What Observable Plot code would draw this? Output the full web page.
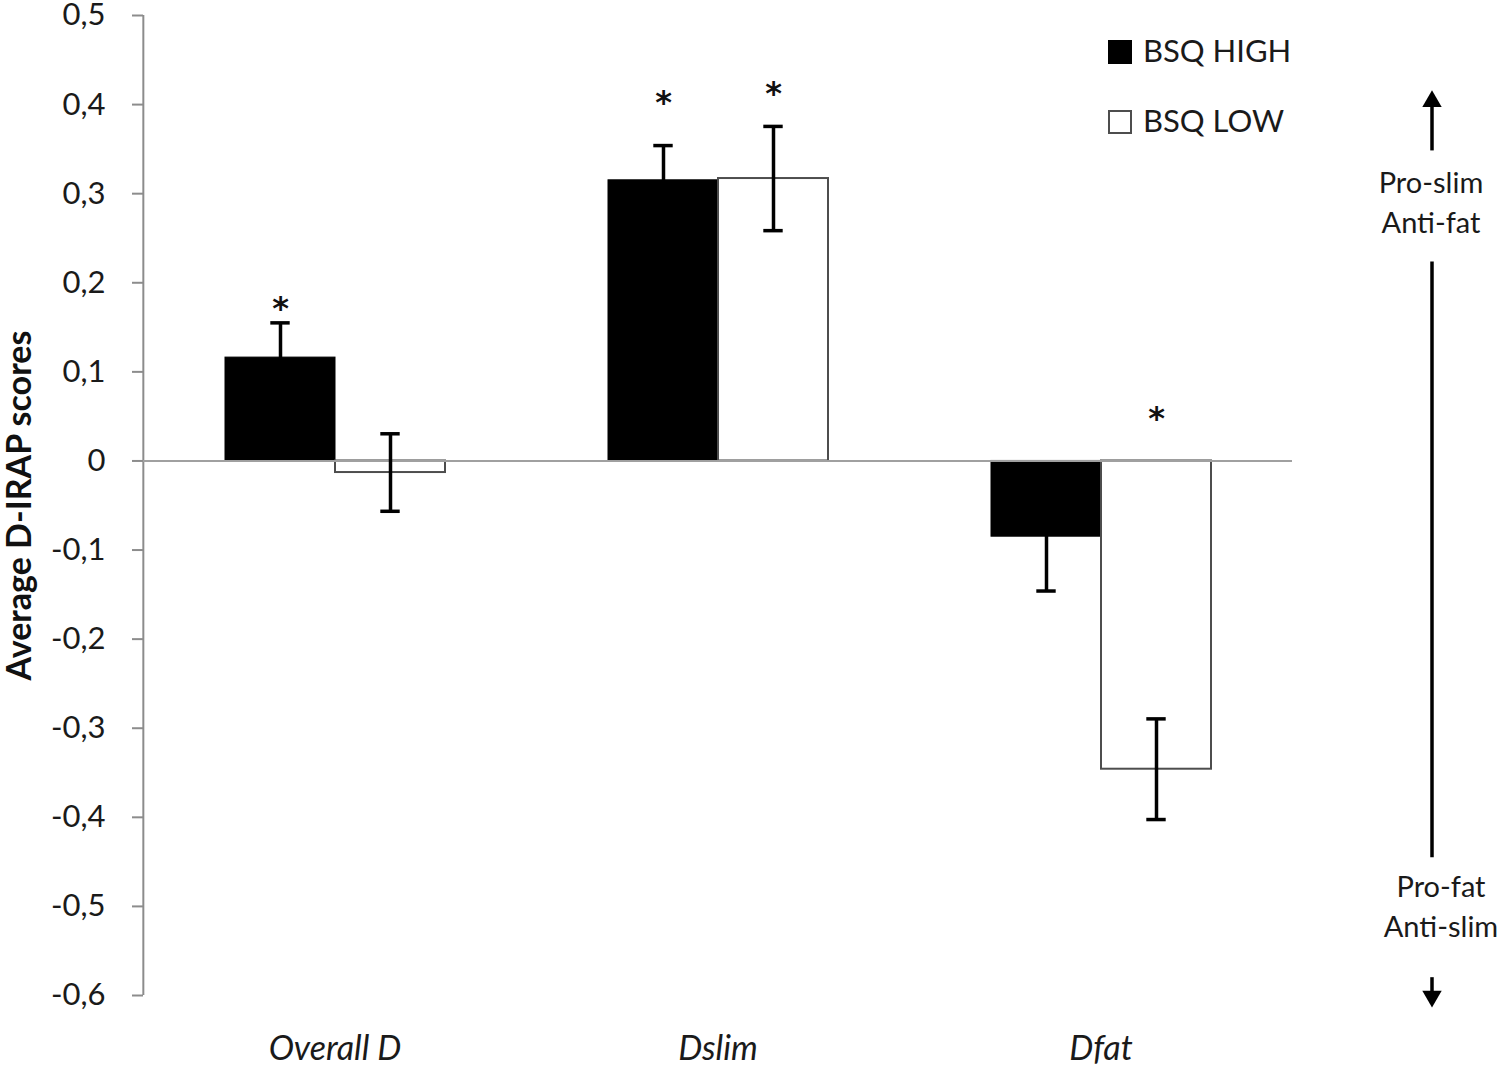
<!DOCTYPE html>
<html><head><meta charset="utf-8">
<script src="https://cdn.jsdelivr.net/npm/d3@7"></script>
<script src="https://cdn.jsdelivr.net/npm/@observablehq/plot@0.6"></script>
<style>
body{margin:0;background:#fff;}
#wrap{position:relative;width:1500px;height:1067px;}
.leg{position:absolute;left:1108px;font-family:Lato,sans-serif;font-size:31px;color:#1a1a1a;height:30px;line-height:30px;white-space:nowrap;}
.sw{display:inline-block;width:24px;height:24px;box-sizing:border-box;vertical-align:middle;margin-right:11px;position:relative;top:-2px;}
g[aria-label="fx-axis tick label"] text{font-style:italic;}
</style></head><body><div id="wrap"></div>
<script>
const categories = ["Overall D", "Dslim", "Dfat"];
const groups = ["BSQ HIGH", "BSQ LOW"];
const highMeans = [0.116, 0.315, -0.085];
const highErrors = [0.039, 0.039, 0.061];
const lowMeans = [-0.013, 0.317, -0.346];
const lowErrors = [0.0435, 0.0585, 0.0565];
const yTicks = [0.5, 0.4, 0.3, 0.2, 0.1, 0, -0.1, -0.2, -0.3, -0.4, -0.5, -0.6];
const starCategories = ["Overall D", "Dslim", "Dslim", "Dfat"];
const starGroups = ["BSQ HIGH", "BSQ HIGH", "BSQ LOW", "BSQ LOW"];
const starY = [0.177, 0.4075, 0.418, 0.053];
const axisTitle = "Average D-IRAP scores";
const upperLabels = ["Pro-slim", "Anti-fat"];
const upperLabelY = [0.311, 0.266];
const lowerLabels = ["Pro-fat", "Anti-slim"];
const lowerLabelY = [-0.479, -0.524];
const arrowShafts = [[0.348, 0.399], [0.2233, -0.4455], [-0.580, -0.597]];
const arrowHeads = [[0.4036, 0], [-0.601, 180]];
const sideCategory = "Dfat";

const fmt = v => v === 0 ? "0" : v.toFixed(1).replace(".", ",");

const high = categories.map((c, i) => ({cat: c, group: groups[0], v: highMeans[i], e: highErrors[i]}));
const low = categories.map((c, i) => ({cat: c, group: groups[1], v: lowMeans[i], e: lowErrors[i]}));
const all = high.concat(low);
const stars = starCategories.map((c, i) => ({cat: c, group: starGroups[i], y: starY[i]}));
const upper = upperLabels.map((t, i) => ({cat: sideCategory, t, y: upperLabelY[i]}));
const lower = lowerLabels.map((t, i) => ({cat: sideCategory, t, y: lowerLabelY[i]}));
const shafts = arrowShafts.map(([a, b]) => ({cat: sideCategory, y1: a, y2: b}));
const heads = arrowHeads.map(([y, r]) => ({cat: sideCategory, y, r}));
const axisLine = [{cat: categories[0], y1: -0.6, y2: 0.5}];

const chart = Plot.plot({
  width: 1500, height: 1067,
  marginLeft: 142, marginRight: 208, marginTop: 15, marginBottom: 72,
  style: {fontFamily: "Lato, sans-serif", background: "white", overflow: "visible"},
  fx: {domain: categories, padding: 0, label: null},
  x: {domain: groups, paddingInner: 0, paddingOuter: 0.734, axis: null},
  y: {domain: [-0.6, 0.5], label: null},
  marks: [
    Plot.axisY(yTicks, {tickSize: 11, tickPadding: 27, fontSize: 31, tickFormat: fmt, stroke: "#8c8c8c", strokeWidth: 2, fill: "#1a1a1a", label: null}),
    Plot.ruleX(axisLine, {fx: "cat", x: null, y1: "y1", y2: "y2", dx: -191.67, stroke: "#8c8c8c", strokeWidth: 2}),
    Plot.axisFx({anchor: "bottom", tickSize: 0, tickPadding: 40, fontSize: 34, fontStyle: "italic", fill: "#1a1a1a", label: null}),
    Plot.text([{cat: categories[0], t: axisTitle}], {fx: "cat", text: "t", frameAnchor: "left", textAnchor: "middle", rotate: -90, dx: -123, fontSize: 34, fontWeight: "bold", fill: "#111"}),
    Plot.rectY(high, {fx: "cat", x: "group", y: "v", fill: "black", stroke: "black", strokeWidth: 1}),
    Plot.rectY(low, {fx: "cat", x: "group", y: "v", fill: "white", stroke: "#4d4d4d", strokeWidth: 2}),
    Plot.ruleY([0], {stroke: "#a0a0a0", strokeWidth: 2}),
    Plot.ruleX(all, {fx: "cat", x: "group", y1: d => d.v - d.e, y2: d => d.v + d.e, stroke: "black", strokeWidth: 3.5}),
    Plot.tickY(all, {fx: "cat", x: "group", y: d => d.v + d.e, insetLeft: 45.3, insetRight: 45.3, stroke: "black", strokeWidth: 3.5}),
    Plot.tickY(all, {fx: "cat", x: "group", y: d => d.v - d.e, insetLeft: 45.3, insetRight: 45.3, stroke: "black", strokeWidth: 3.5}),
    Plot.text(stars, {fx: "cat", x: "group", y: "y", text: () => "*", fontFamily: "DejaVu Sans", fontWeight: "bold", fontSize: 32, dy: 5, fill: "#111"}),
    Plot.text(upper, {fx: "cat", y: "y", text: "t", dx: 330, fontSize: 29, fill: "#1a1a1a"}),
    Plot.text(lower, {fx: "cat", y: "y", text: "t", dx: 340, fontSize: 29, fill: "#1a1a1a"}),
    Plot.ruleX(shafts, {fx: "cat", x: null, y1: "y1", y2: "y2", dx: 331, stroke: "black", strokeWidth: 3.5}),
    Plot.dot(heads, {fx: "cat", y: "y", rotate: "r", symbol: "triangle", r: 7.2, dx: 331, fill: "black", stroke: null})
  ]
});
const wrap = document.getElementById("wrap");
wrap.appendChild(chart);

const legendColors = [["#000", "#000"], ["#fff", "#4d4d4d"]];
const legendTop = [35, 105];
groups.forEach((g, i) => {
  const d = document.createElement("div");
  d.className = "leg";
  d.style.top = legendTop[i] + "px";
  const s = document.createElement("span");
  s.className = "sw";
  s.style.background = legendColors[i][0];
  s.style.border = "2px solid " + legendColors[i][1];
  d.appendChild(s);
  d.appendChild(document.createTextNode(g));
  wrap.appendChild(d);
});
</script></body></html>
